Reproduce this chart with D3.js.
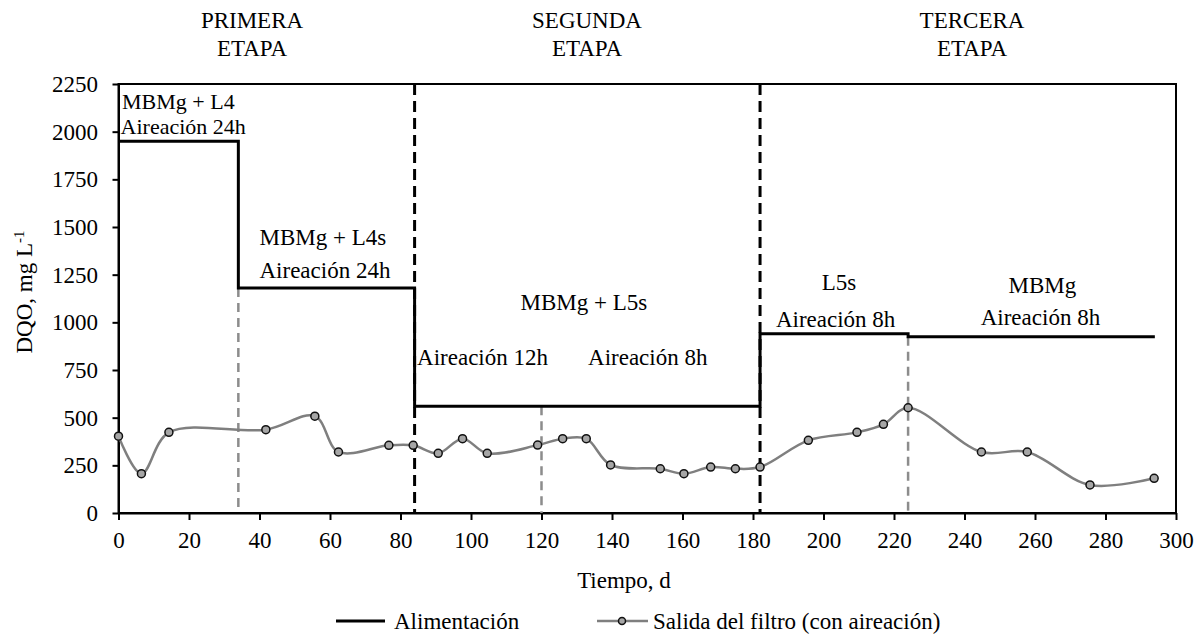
<html>
<head>
<meta charset="utf-8">
<script src="https://cdn.jsdelivr.net/npm/d3@7"></script>
<style>
  body { margin: 0; background: #fff; }
</style>
</head>
<body>
<svg width="1202" height="635"></svg>
<script>
/// DATA
var days = [0, 6.5, 14.3, 41.8, 55.7, 62.4, 76.7, 83.6, 90.7, 97.6, 104.6, 118.9, 126, 132.7,
            139.6, 153.7, 160.4, 168, 175, 182, 195.7, 209.5, 217, 224, 244.8, 257.8, 275.6, 293.8];
var salida = [403, 206, 423, 437, 508, 320, 355, 355, 313, 390, 313, 356, 390, 390,
              252, 232, 206, 241, 232, 241, 381, 423, 465, 552, 320, 320, 147, 182];

var feedDays = [0, 34, 84, 182, 224, 294];
var feedValues = [1950, 1180, 560, 940, 925, 925];

var stageLines = [84, 182];            // black dashed
var subLines = [34, 120, 224];         // grey dashed
var subTops = [1180, 560, 925];

var xTicks = [0, 20, 40, 60, 80, 100, 120, 140, 160, 180, 200, 220, 240, 260, 280, 300];
var yTicks = [0, 250, 500, 750, 1000, 1250, 1500, 1750, 2000, 2250];

var stages = [["PRIMERA", "ETAPA"], ["SEGUNDA", "ETAPA"], ["TERCERA", "ETAPA"]];
var stageCenters = [252, 587, 972];

// label text, day, DQO, anchor
var notes = [
  ["MBMg + L4", 1, 2118, "start"],
  ["Aireación 24h", 0.6, 1988, "start"],
  ["MBMg + L4s", 40, 1406, "start"],
  ["Aireación 24h", 40, 1231, "start"],
  ["MBMg + L5s", 132, 1065, "middle"],
  ["Aireación 12h", 84.7, 776, "start"],
  ["Aireación 8h", 133.2, 776, "start"],
  ["L5s", 204.4, 1170, "middle"],
  ["Aireación 8h", 186.5, 975, "start"],
  ["MBMg", 262.1, 1154, "middle"],
  ["Aireación 8h", 244.6, 986, "start"]
];

var svg = d3.select("svg");
var FONT = "'Liberation Serif', Tinos, 'Times New Roman', 'DejaVu Serif', serif";
var FS = "23px";

var x = d3.scaleLinear().domain([0, 300]).range([118.5, 1176]);
var y = d3.scaleLinear().domain([0, 2250]).range([513, 84]);

/// FRAME
svg.append("rect")
  .attr("x", x(0)).attr("y", y(2250))
  .attr("width", x(300) - x(0)).attr("height", y(0) - y(2250))
  .attr("fill", "none").attr("stroke", "#000").attr("stroke-width", 2);

/// AXES
var ya = svg.append("g").attr("transform", "translate(" + x(0) + ",0)")
  .call(d3.axisLeft(y).tickValues(yTicks).tickFormat(d3.format("d"))
    .tickSize(6).tickSizeOuter(0).tickPadding(14.5));
var xa = svg.append("g").attr("transform", "translate(0," + y(0) + ")")
  .call(d3.axisBottom(x).tickValues(xTicks).tickFormat(d3.format("d"))
    .tickSize(7).tickSizeOuter(0).tickPadding(12));
[ya, xa].forEach(function(a) {
  a.attr("font-family", FONT).attr("font-size", FS);
  a.select(".domain").attr("stroke", "#000").attr("stroke-width", 2);
  a.selectAll(".tick line").attr("stroke", "#000").attr("stroke-width", 2);
  a.selectAll("text").attr("fill", "#000");
});

/// VERTICAL MARKERS
svg.selectAll(".stage").data(stageLines).enter().append("line")
  .attr("x1", d => x(d)).attr("x2", d => x(d))
  .attr("y1", y(2250)).attr("y2", y(0))
  .attr("stroke", "#000").attr("stroke-width", 3).attr("stroke-dasharray", "11,6");

svg.selectAll(".sub").data(subLines).enter().append("line")
  .attr("x1", d => x(d)).attr("x2", d => x(d))
  .attr("y1", (d, i) => y(subTops[i])).attr("y2", y(0))
  .attr("stroke", "#8c8c8c").attr("stroke-width", 2.5).attr("stroke-dasharray", "9,6");

/// FEED LINE
var feed = feedDays.map((d, i) => [d, feedValues[i]]);
svg.append("path").datum(feed)
  .attr("d", d3.line().x(d => x(d[0])).y(d => y(d[1])).curve(d3.curveStepAfter))
  .attr("fill", "none").attr("stroke", "#000").attr("stroke-width", 3);

/// FILTER OUTPUT
var pts = days.map((d, i) => [d, salida[i]]);
svg.append("path").datum(pts)
  .attr("d", d3.line().x(d => x(d[0])).y(d => y(d[1])).curve(d3.curveCatmullRom.alpha(0.5)))
  .attr("fill", "none").attr("stroke", "#7f7f7f").attr("stroke-width", 2.5);
svg.selectAll(".pt").data(pts).enter().append("circle")
  .attr("cx", d => x(d[0])).attr("cy", d => y(d[1])).attr("r", 4)
  .attr("fill", "#a6a6a6").attr("stroke", "#111").attr("stroke-width", 1.5);

/// TEXTS
var txt = svg.append("g").attr("font-family", FONT).attr("font-size", FS).attr("fill", "#000");

notes.forEach(function(n, i) {
  var t = txt.append("text").attr("x", x(n[1])).attr("y", y(n[2]))
    .attr("text-anchor", n[3]).text(n[0]);
  if (i < 2) t.attr("font-size", "22px");   // tight pair in the first box
});

stages.forEach(function(s, i) {
  txt.append("text").attr("x", stageCenters[i]).attr("y", 28)
    .attr("text-anchor", "middle").text(s[0]);
  txt.append("text").attr("x", stageCenters[i]).attr("y", 56)
    .attr("text-anchor", "middle").text(s[1]);
});

var yt = txt.append("text").attr("transform", "translate(32,292) rotate(-90)")
  .attr("text-anchor", "middle");
yt.append("tspan").text("DQO, mg L");
yt.append("tspan").attr("baseline-shift", "super").attr("font-size", "15px").text("-1");

txt.append("text").attr("x", 624).attr("y", 588)
  .attr("text-anchor", "middle").text("Tiempo, d");

/// LEGEND
svg.append("line").attr("x1", 336).attr("x2", 385).attr("y1", 621).attr("y2", 621)
  .attr("stroke", "#000").attr("stroke-width", 3);
txt.append("text").attr("x", 394).attr("y", 629).text("Alimentación");
svg.append("line").attr("x1", 597).attr("x2", 648).attr("y1", 621).attr("y2", 621)
  .attr("stroke", "#7f7f7f").attr("stroke-width", 2.5);
svg.append("circle").attr("cx", 622).attr("cy", 621).attr("r", 3.5)
  .attr("fill", "#a6a6a6").attr("stroke", "#111").attr("stroke-width", 1.5);
txt.append("text").attr("x", 653).attr("y", 629).text("Salida del filtro (con aireación)");
</script>
</body>
</html>
